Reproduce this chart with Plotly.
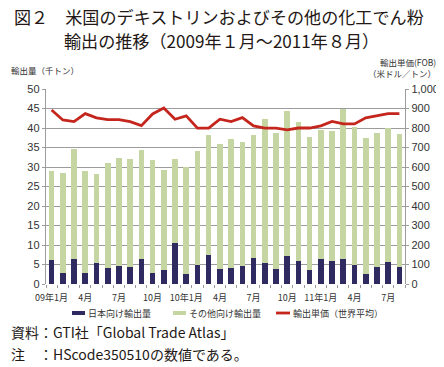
import plotly.graph_objects as go

months = list(range(32))
tick_pos = [0, 3, 6, 9, 12, 15, 18, 21, 24, 27, 30]
tick_text = ["09年1月", "4月", "7月", "10月", "10年1月", "4月", "7月", "10月", "11年1月", "4月", "7月"]

total = [29.1, 28.4, 34.6, 29.0, 28.2, 31.1, 32.2, 32.1, 34.4, 31.7, 29.3, 32.0,
         29.9, 34.1, 38.2, 35.9, 37.1, 36.3, 38.1, 42.2, 38.7, 44.3, 41.5, 37.6,
         39.5, 39.3, 45.0, 40.2, 37.4, 38.7, 40.0, 38.4]
japan = [6.1, 2.7, 6.5, 2.7, 5.3, 4.0, 4.5, 4.3, 6.5, 2.7, 3.5, 10.6,
         2.5, 5.0, 7.5, 3.8, 4.0, 4.5, 6.7, 5.3, 3.8, 7.2, 5.8, 3.7,
         6.5, 6.0, 6.5, 4.8, 2.6, 4.4, 5.6, 4.4]
other = [round(t - j, 1) for t, j in zip(total, japan)]
price = [892, 841, 833, 874, 852, 843, 843, 833, 812, 872, 903, 845,
         862, 799, 799, 845, 833, 853, 811, 799, 799, 790, 800, 800,
         811, 834, 821, 821, 852, 863, 874, 874]
series_names = ["日本向け輸出量", "その他向け輸出量", "輸出単価（世界平均）"]

NAVY = "#2f2b60"
GREEN = "#c6d6a2"
RED = "#c4261d"
FONT = "Noto Sans CJK JP"
NUMF = "Liberation Sans"

# page body has an 8px margin: figure is sized/offset to compensate
OFF = 8
W, H = 444 - OFF, 367 - OFF
PL, PR, PT, PB = 46, 405, 89, 284  # plot area in reference pixels


def px(xr):
    return (xr - PL) / (PR - PL)


def py(yr):
    return (PB - yr) / (PB - PT)


fig = go.Figure()
fig.add_trace(go.Bar(x=months, y=japan, name=series_names[0],
                     marker=dict(color=NAVY, line=dict(width=0)), width=0.5))
fig.add_trace(go.Bar(x=months, y=other, name=series_names[1],
                     marker=dict(color=GREEN, line=dict(width=0)), width=0.5))
fig.add_trace(go.Scatter(x=months, y=price, name=series_names[2], mode="lines",
                         line=dict(color=RED, width=2.8), yaxis="y2"))

fig.update_layout(
    width=W, height=H,
    margin=dict(l=PL - OFF, r=W - (PR - OFF), t=PT - OFF, b=H - (PB - OFF), autoexpand=False),
    paper_bgcolor="white", plot_bgcolor="white",
    barmode="stack",
    showlegend=False,
    xaxis=dict(range=[-0.5, 31.5], tickmode="array", tickvals=tick_pos, ticktext=tick_text,
               ticks="", showgrid=False, zeroline=False, showline=False,
               ticklabelstandoff=7,
               tickfont=dict(family=FONT, size=9, color="#333"),
               minor=dict(tickmode="linear", tick0=-0.5, dtick=1, ticks="outside",
                          ticklen=3, tickcolor="#999", tickwidth=1)),
    yaxis=dict(range=[0, 50], dtick=5, showgrid=True, gridcolor="#9c9c9c", gridwidth=1.4,
               showline=True, linecolor="#9c9c9c", linewidth=1.4,
               ticks="outside", ticklen=3, tickcolor="#9c9c9c",
               zeroline=False, tickfont=dict(family=NUMF, size=11, color="#333")),
    yaxis2=dict(range=[0, 1000], dtick=100, overlaying="y", side="right", showgrid=False,
                showline=True, linecolor="#9c9c9c", linewidth=1.4,
                ticks="outside", ticklen=3, tickcolor="#9c9c9c",
                zeroline=False, tickformat=",d",
                tickfont=dict(family=NUMF, size=11, color="#333")),
)

# legend row (manual, to match the reference layout)
LEG_Y = 313
legend_items = [
    dict(kind="rect", color=NAVY, x0=72, x1=85, tx=86, name=series_names[0]),
    dict(kind="rect", color=GREEN, x0=173, x1=186, tx=187, name=series_names[1]),
    dict(kind="line", color=RED, x0=276, x1=290, tx=291, name=series_names[2]),
]
for it in legend_items:
    if it["kind"] == "rect":
        fig.add_shape(type="rect", xref="paper", yref="paper",
                      x0=px(it["x0"]), x1=px(it["x1"]), y0=py(LEG_Y + 2), y1=py(LEG_Y - 2),
                      fillcolor=it["color"], line=dict(width=0))
    else:
        fig.add_shape(type="line", xref="paper", yref="paper",
                      x0=px(it["x0"]), x1=px(it["x1"]), y0=py(LEG_Y), y1=py(LEG_Y),
                      line=dict(color=it["color"], width=2.8))
    fig.add_annotation(text=it["name"], xref="paper", yref="paper", showarrow=False,
                       x=px(it["tx"]), y=py(LEG_Y), xanchor="left", yanchor="middle",
                       font=dict(family=FONT, size=9, color="#333"))

ann = [
    dict(text="図２　米国のデキストリンおよびその他の化工でん粉", x=12, y=16, size=17.1),
    dict(text="輸出の推移（2009年１月～2011年８月）", x=62, y=40, size=17.1),
]
for a in ann:
    fig.add_annotation(text=a["text"], xref="paper", yref="paper", showarrow=False,
                       x=px(a["x"]), y=py(a["y"]), xanchor="left", yanchor="middle",
                       font=dict(family=FONT, size=a["size"], color="#231815"))

small = [
    dict(text="輸出量（千トン）", x=9, y=70, anchor="left"),
    dict(text="輸出単価(FOB)", x=438, y=62, anchor="right"),
    dict(text="（米ドル／トン）", x=438, y=73, anchor="right"),
]
for a in small:
    fig.add_annotation(text=a["text"], xref="paper", yref="paper", showarrow=False,
                       x=px(a["x"]), y=py(a["y"]), xanchor=a["anchor"], yanchor="middle",
                       font=dict(family=FONT, size=8.5, color="#333"))

notes = [
    dict(text="資料：GTI社「Global Trade Atlas」", y=332),
    dict(text="注　：HScode350510の数値である。", y=354),
]
for a in notes:
    fig.add_annotation(text=a["text"], xref="paper", yref="paper", showarrow=False,
                       x=px(9), y=py(a["y"]), xanchor="left", yanchor="middle",
                       font=dict(family=FONT, size=14, color="#231815"))

fig.write_html("out.html")
